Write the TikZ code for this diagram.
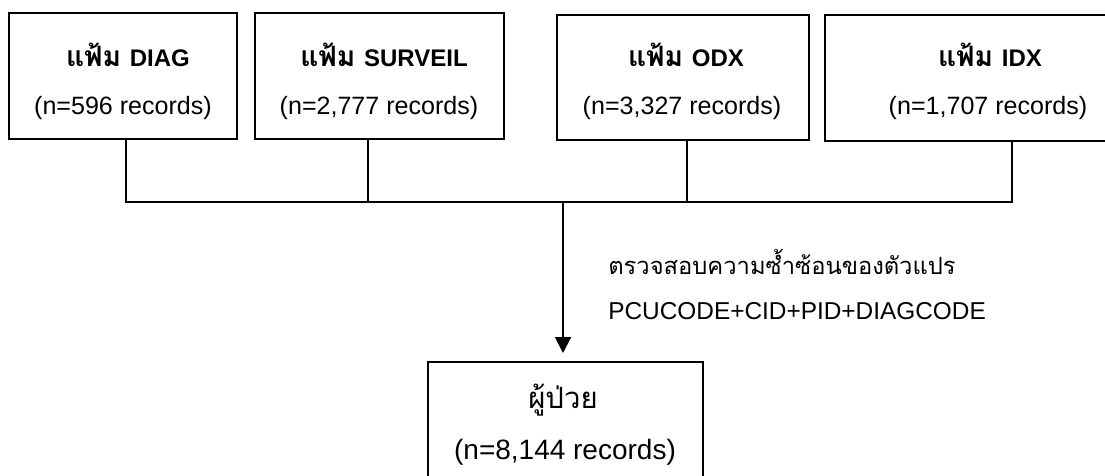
\documentclass[tikz,border=0pt]{standalone}
\usepackage{fontspec}
\setmainfont{Liberation Sans}
\newfontfamily\thaifont[Script=Thai]{Loma}
\newfontfamily\thaibig[Script=Thai,Scale=1.17]{Loma}
\usetikzlibrary{arrows.meta}
\tikzset{
  x=0.75pt, y=-0.75pt,
  filebox/.style={draw, line width=1.5pt, inner sep=0pt, anchor=north west},
  head/.style={font=\fontsize{18}{22}\selectfont\bfseries, inner sep=0pt},
  count/.style={font=\fontsize{18.8}{22}\selectfont, inner sep=0pt},
  link/.style={line width=1.5pt},
  note/.style={font=\fontsize{18.3}{22}\selectfont, inner sep=0pt, anchor=west},
}
\newcommand{\fileword}{{\thaibig แฟ้ม}\hspace{1.5pt} }
\begin{document}
\begin{tikzpicture}
\useasboundingbox (0,0) rectangle (1105,475);
\clip (0,0) rectangle (1105,475);

% source files
\node[filebox, minimum width=228*0.75pt, minimum height=126*0.75pt] (b1) at (8,12) {};
\node[filebox, minimum width=249*0.75pt, minimum height=126*0.75pt] (b2) at (254,12) {};
\node[filebox, minimum width=252*0.75pt, minimum height=125*0.75pt] (b3) at (556,14) {};
\node[filebox, minimum width=340*0.75pt, minimum height=126*0.75pt] (b4) at (824,14) {};

\node[head] (h1) at (128,55) {\fileword DIAG};
\node[count] (n1) at (123,108) {(n=596 records)};
\node[head] (h2) at (384,55) {\fileword SURVEIL};
\node[count] (n2) at (379,108) {(n=2,777 records)};
\node[head] (h3) at (686,55) {\fileword ODX};
\node[count] (n3) at (682,108) {(n=3,327 records)};
\node[head] (h4) at (990,55) {\fileword IDX};
\node[count] (n4) at (988,108) {(n=1,707 records)};

% merged result
\node[filebox, minimum width=275*0.75pt, minimum height=130*0.75pt] (res) at (427,361) {};
\node[font=\fontsize{22}{24}\selectfont\thaifont, inner sep=0pt] (rt) at (563,400) {ผู้ป่วย};
\node[font=\fontsize{21}{24}\selectfont, inner sep=0pt] (rn) at (565,452) {(n=8,144 records)};

% collecting bus
\coordinate (j1) at (126,202);
\coordinate (j2) at (368,202);
\coordinate (j3) at (687,202);
\coordinate (j4) at (1012,202);
\coordinate (jm) at (563,202);
\draw[link] (b1.south -| j1) -- (j1);
\draw[link] (b2.south -| j2) -- (j2);
\draw[link] (b3.south -| j3) -- (j3);
\draw[link] (b4.south -| j4) -- (j4);
\draw[link, line cap=rect] (j1) -- (j4);
\draw[link, -{Triangle[length=16*0.75pt, width=16*0.75pt]}, shorten >=8*0.75pt] (jm) -- (res.north -| jm);

% duplicate check note
\node[note, font=\fontsize{17.8}{22}\selectfont\thaifont] (c1) at (608,262) {ตรวจสอบความซ้ำซ้อนของตัวแปร};
\node[note] (c2) at (608,311) {PCUCODE+CID+PID+DIAGCODE};
\end{tikzpicture}
\end{document}
